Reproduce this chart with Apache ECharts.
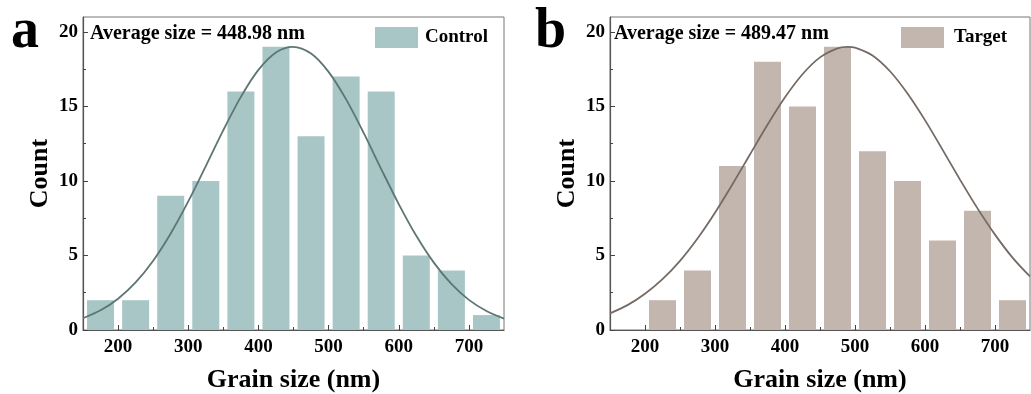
<!DOCTYPE html>
<html><head><meta charset="utf-8">
<script src="https://cdn.jsdelivr.net/npm/echarts@6/dist/echarts.min.js"></script>
<style>html,body{margin:0;padding:0;background:#fff}#c{width:1031px;height:394px}</style>
</head><body><div id="c"></div>
<script>
// Bin centres (nm), bin width 50
const binCentres = [175, 225, 275, 325, 375, 425, 475, 525, 575, 625, 675, 725];
const controlCounts = [2, 2, 9, 10, 16, 19, 13, 17, 16, 5, 4, 1];
const targetCounts  = [0, 2, 4, 11, 18, 15, 19, 12, 10, 6, 8, 2];
// Fitted curve samples
const controlCurveX = [150,175,200,225,250,275,300,325,350,375,400,425,449,475,500,525,550,575,600,625,650,675,700,725,750];
const controlCurve  = [0.79,1.32,2.10,3.19,4.65,6.48,8.63,11.00,13.41,15.64,17.45,18.62,19.00,18.55,17.32,15.47,13.22,10.80,8.45,6.32,4.52,3.09,2.02,1.27,0.76];
const targetCurveX  = [150,175,200,225,250,275,300,325,350,375,400,425,450,475,489.5,500,525,550,575,600,625,650,675,700,725,750];
const targetCurve   = [1.12,1.67,2.43,3.41,4.64,6.14,7.87,9.78,11.78,13.77,15.61,17.16,18.29,18.90,19.00,18.95,18.42,17.36,15.87,14.08,12.10,10.09,8.16,6.40,4.86,3.59];
const xMajorTicks = [200, 300, 400, 500, 600, 700];
const xMinorTicks = [250, 350, 450, 550, 650];
const yMajorTicks = [0, 5, 10, 15, 20];
const yMinorTicks = [2.5, 7.5, 12.5, 17.5];
const panelLetters = ['a', 'b'];
const averageTexts = ['Average size = 448.98 nm', 'Average size = 489.47 nm'];
const seriesNames = ['Control', 'Target'];
const xAxisName = 'Grain size (nm)';
const yAxisName = 'Count';

const FONT = '"Liberation Serif", "Times New Roman", serif';
const barColors = ['#a8c6c6', '#c3b6ae'];
const lineColors = ['#5c7674', '#766a64'];
const grids = [
  {left: 83, top: 17, width: 421, height: 313},
  {left: 610, top: 17, width: 420, height: 313}
];

const chart = echarts.init(document.getElementById('c'), null, {renderer: 'canvas'});
const xAxes = [], yAxes = [], series = [], legends = [], graphics = [];
grids.forEach((g, i) => {
  xAxes.push({
    gridIndex: i, type: 'value', min: 150, max: 750, position: 'bottom',
    name: xAxisName, nameLocation: 'middle', nameGap: 37,
    nameTextStyle: {fontFamily: FONT, fontWeight: 'bold', fontSize: 26, color: '#000'},
    axisLine: {show: true, onZero: false, lineStyle: {color: '#555', width: 1.2}},
    axisTick: {show: true, inside: true, length: 5, customValues: xMajorTicks, lineStyle: {color: '#444'}},
    axisLabel: {customValues: xMajorTicks, fontFamily: FONT, fontWeight: 'bold', fontSize: 19, color: '#000', margin: 8},
    splitLine: {show: false}
  });
  xAxes.push({
    gridIndex: i, type: 'value', min: 150, max: 750, position: 'bottom',
    axisLine: {show: false},
    axisTick: {show: true, inside: true, length: 3, customValues: xMinorTicks, lineStyle: {color: '#444'}},
    axisLabel: {show: false}, splitLine: {show: false}
  });
  yAxes.push({
    gridIndex: i, type: 'value', min: 0, max: 21, position: 'left',
    name: yAxisName, nameLocation: 'middle', nameGap: 30, nameRotate: 90,
    nameTextStyle: {fontFamily: FONT, fontWeight: 'bold', fontSize: 26, color: '#000'},
    axisLine: {show: true, onZero: false, lineStyle: {color: '#555', width: 1.2}},
    axisTick: {show: true, inside: true, length: 5, customValues: yMajorTicks, lineStyle: {color: '#444'}},
    axisLabel: {customValues: yMajorTicks, fontFamily: FONT, fontWeight: 'bold', fontSize: 19, color: '#000', margin: 5},
    splitLine: {show: false}
  });
  yAxes.push({
    gridIndex: i, type: 'value', min: 0, max: 21, position: 'left',
    axisLine: {show: false},
    axisTick: {show: true, inside: true, length: 3, customValues: yMinorTicks, lineStyle: {color: '#444'}},
    axisLabel: {show: false}, splitLine: {show: false}
  });
  const counts = i === 0 ? controlCounts : targetCounts;
  const cx = i === 0 ? controlCurveX : targetCurveX;
  const cy = i === 0 ? controlCurve : targetCurve;
  series.push({
    name: seriesNames[i], type: 'bar', xAxisIndex: 2 * i, yAxisIndex: 2 * i,
    barWidth: 27, itemStyle: {color: barColors[i]},
    data: binCentres.map((x, k) => [x, counts[k]])
  });
  series.push({
    name: seriesNames[i] + ' fit', type: 'line', xAxisIndex: 2 * i, yAxisIndex: 2 * i,
    smooth: 0.3, showSymbol: false, symbol: 'none',
    lineStyle: {color: lineColors[i], width: 1.8},
    data: cx.map((x, k) => [x, cy[k]]), z: 5
  });
  legends.push({
    data: [seriesNames[i]], left: i === 0 ? 375 : 901, top: 27, padding: 0,
    itemWidth: 43, itemHeight: 21, icon: 'rect', itemGap: 0,
    textStyle: {fontFamily: FONT, fontWeight: 'bold', fontSize: 19, color: '#000', padding: [0, 0, 0, i === 0 ? 2 : 5]}
  });
  graphics.push({
    type: 'text', left: i === 0 ? 90 : 614, top: 24,
    style: {text: averageTexts[i], fontFamily: FONT, fontWeight: 'bold', fontSize: 20, fill: '#000'}
  });
  graphics.push({
    type: 'text', left: i === 0 ? 11 : 535, top: 5,
    style: {text: panelLetters[i], fontFamily: FONT, fontWeight: 'bold', fontSize: 56, fill: '#000'}
  });
});

chart.setOption({
  animation: false,
  grid: grids.map(g => Object.assign({show: true, borderColor: '#777', borderWidth: 1, backgroundColor: 'transparent', outerBoundsMode: 'none', containLabel: false}, g)),
  xAxis: xAxes, yAxis: yAxes, series: series, legend: legends, graphic: graphics
});
</script></body></html>
